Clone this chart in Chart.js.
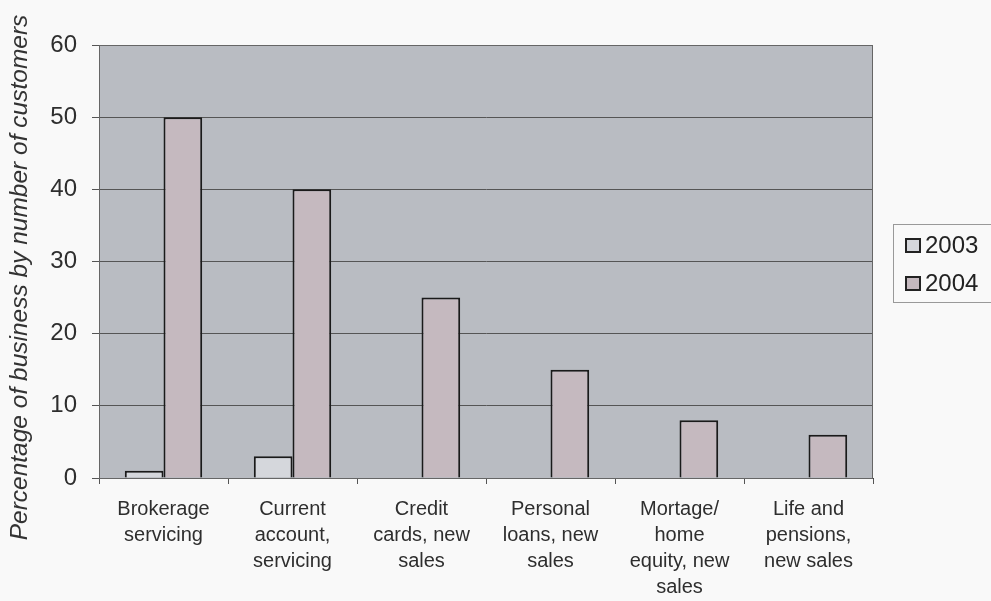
<!DOCTYPE html>
<html>
<head>
<meta charset="utf-8">
<script src="https://cdn.jsdelivr.net/npm/chart.js@4"></script>
<style>
  html, body { margin: 0; padding: 0; background: #f9f9f9; }
  #wrap { width: 991px; height: 601px; }
</style>
</head>
<body>
<div id="wrap"><canvas id="myChart" width="991" height="601"></canvas></div>
<script>
const categories = [
    ['Brokerage', 'servicing'],
    ['Current', 'account,', 'servicing'],
    ['Credit', 'cards, new', 'sales'],
    ['Personal', 'loans, new', 'sales'],
    ['Mortage/', 'home', 'equity, new', 'sales'],
    ['Life and', 'pensions,', 'new sales']
];
const values2003 = [1, 3, 0, 0, 0, 0];
const values2004 = [50, 40, 25, 15, 8, 6];
const yTicks = [0, 10, 20, 30, 40, 50, 60];
const yTitle = 'Percentage of business by number of customers';

// grey plot background, plot frame, rotated y title and the boxed legend
const excelLook = {
    id: 'excelLook',
    beforeDraw(chart) {
        const a = chart.chartArea;
        const c = chart.ctx;
        c.save();
        c.fillStyle = '#b9bcc2';
        c.fillRect(a.left, a.top, a.right - a.left, a.bottom - a.top);
        c.restore();
    },
    afterDraw(chart) {
        const a = chart.chartArea;
        const c = chart.ctx;
        c.save();
        c.strokeStyle = '#666';
        c.lineWidth = 1;
        c.strokeRect(a.left + 0.5, a.top + 0.5, a.right - a.left - 1, a.bottom - a.top);

        // y title
        c.translate(20, (a.top + a.bottom) / 2 + 16);
        c.rotate(-Math.PI / 2);
        c.font = 'italic 24.5px "Liberation Sans"';
        c.fillStyle = '#333';
        c.textAlign = 'center';
        c.textBaseline = 'middle';
        c.fillText(yTitle, 0, 0);
        c.setTransform(1, 0, 0, 1, 0, 0);

        // legend
        const lx = a.right + 20;
        c.strokeStyle = '#999';
        c.lineWidth = 1;
        c.strokeRect(lx + 0.5, 224.5, 120, 78);
        c.font = '24px "Liberation Sans"';
        c.textAlign = 'left';
        c.textBaseline = 'middle';
        chart.data.datasets.forEach((ds, i) => {
            const cy = 245 + i * 38;
            c.fillStyle = ds.backgroundColor;
            c.fillRect(lx + 13, cy - 6, 14, 13);
            c.strokeStyle = '#222';
            c.lineWidth = 2;
            c.strokeRect(lx + 13, cy - 6, 14, 13);
            c.fillStyle = '#222';
            c.fillText(ds.label, lx + 32, cy + 1);
        });
        c.restore();
    }
};

const ctx = document.getElementById('myChart').getContext('2d');
const myChart = new Chart(ctx, {
    type: 'bar',
    data: {
        labels: categories,
        datasets: [{
            label: '2003',
            data: values2003,
            backgroundColor: '#d5d7dc',
            borderColor: '#1a1a1a',
            borderWidth: 2,
            borderSkipped: 'bottom'
        },
        {
            label: '2004',
            data: values2004,
            backgroundColor: '#c5b9bf',
            borderColor: '#1a1a1a',
            borderWidth: 2,
            borderSkipped: 'bottom'
        }]
    },
    options: {
        responsive: false,
        animation: false,
        layout: {
            padding: { top: 45, left: 0, right: 118, bottom: 0 }
        },
        datasets: {
            bar: { categoryPercentage: 0.6, barPercentage: 1.0 }
        },
        plugins: {
            legend: { display: false },
            tooltip: { enabled: false }
        },
        scales: {
            x: {
                afterFit(axis) { axis.height = 123; },
                grid: {
                    drawOnChartArea: false,
                    color: '#555',
                    tickLength: 6,
                    offset: true
                },
                border: { color: '#444' },
                ticks: {
                    maxRotation: 0,
                    autoSkip: false,
                    font: { family: 'Liberation Sans', size: 20, lineHeight: 1.3 },
                    color: '#2e2e2e',
                    padding: 12
                }
            },
            y: {
                min: 0,
                max: 60,
                afterFit(axis) { axis.width = 99; },
                afterBuildTicks(axis) {
                    axis.ticks = yTicks.map(v => ({ value: v }));
                },
                grid: {
                    color: '#555',
                    tickLength: 7
                },
                border: { color: '#444' },
                ticks: {
                    font: { family: 'Liberation Sans', size: 24 },
                    color: '#2e2e2e',
                    padding: 15
                }
            }
        }
    },
    plugins: [excelLook]
});
</script>
</body>
</html>
